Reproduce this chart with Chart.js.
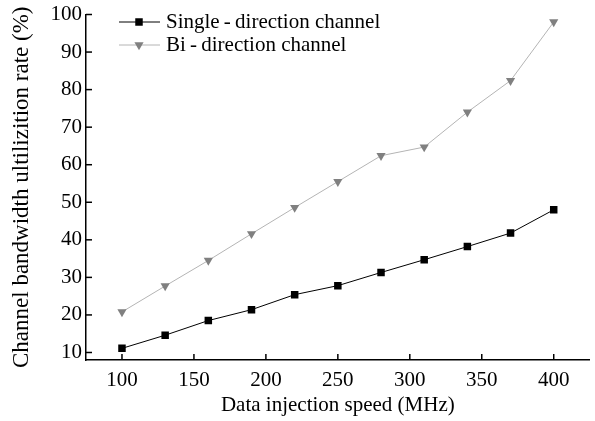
<!DOCTYPE html>
<html>
<head>
<meta charset="utf-8">
<script src="https://cdn.jsdelivr.net/npm/chart.js@4/dist/chart.umd.min.js"></script>
<style>
  body { margin: 0; background: #fff; }
</style>
</head>
<body>
<canvas id="chart" width="595" height="421"></canvas>
<script>
const speeds = [100, 130, 160, 190, 220, 250, 280, 310, 340, 370, 400];
const singleRate = [11.1, 14.6, 18.5, 21.4, 25.4, 27.8, 31.3, 34.7, 38.2, 41.8, 48.0];
const biRate = [20.8, 27.7, 34.5, 41.6, 48.6, 55.5, 62.4, 64.7, 74.0, 82.4, 98.0];
const seriesNames = ['Single\u2009-\u2009direction channel', 'Bi\u2009-\u2009direction channel'];
const xTickValues = [100, 150, 200, 250, 300, 350, 400];
const yTickValues = [10, 20, 30, 40, 50, 60, 70, 80, 90, 100];

const font = 'Liberation Serif';
const fontSize = 21;

const toPoints = (ys) => speeds.map((x, i) => ({ x: x, y: ys[i] }));

// inward tick marks, like the original plot
const innerTicks = {
  id: 'innerTicks',
  afterDraw(chart) {
    const { ctx, chartArea, scales } = chart;
    ctx.save();
    ctx.strokeStyle = '#000';
    ctx.lineWidth = 1.5;
    scales.y.ticks.forEach(t => {
      const y = scales.y.getPixelForValue(t.value);
      ctx.beginPath();
      ctx.moveTo(chartArea.left, y);
      ctx.lineTo(chartArea.left + 6, y);
      ctx.stroke();
    });
    scales.x.ticks.forEach(t => {
      const x = scales.x.getPixelForValue(t.value);
      ctx.beginPath();
      ctx.moveTo(x, chartArea.bottom);
      ctx.lineTo(x, chartArea.bottom - 6);
      ctx.stroke();
    });
    ctx.restore();
  }
};

// legend with line-marker-line symbols inside the plot
const insideLegend = {
  id: 'insideLegend',
  afterDraw(chart) {
    const { ctx } = chart;
    ctx.save();
    chart.data.datasets.forEach((ds, i) => {
      const y = 22 + i * 23;
      ctx.strokeStyle = ds.borderColor;
      ctx.lineWidth = 1;
      ctx.beginPath();
      ctx.moveTo(119, y);
      ctx.lineTo(160, y);
      ctx.stroke();
      ctx.fillStyle = ds.pointBackgroundColor;
      ctx.strokeStyle = ds.pointBackgroundColor;
      Chart.helpers.drawPoint(ctx, {
        pointStyle: ds.pointStyle,
        rotation: ds.pointRotation || 0,
        radius: ds.pointRadius,
        borderWidth: 0
      }, 139, y);
      ctx.fillStyle = '#000';
      ctx.font = fontSize + 'px "' + font + '"';
      ctx.textBaseline = 'middle';
      ctx.fillText(ds.label, 166, y);
    });
    ctx.restore();
  }
};

new Chart(document.getElementById('chart'), {
  type: 'line',
  data: {
    datasets: [
      {
        label: seriesNames[0],
        data: toPoints(singleRate),
        borderColor: '#000',
        borderWidth: 1,
        pointStyle: 'rect',
        pointRadius: 5.3,
        pointBackgroundColor: '#000',
        pointBorderWidth: 0
      },
      {
        label: seriesNames[1],
        data: toPoints(biRate),
        borderColor: '#b4b4b4',
        borderWidth: 1,
        pointStyle: 'triangle',
        pointRotation: 180,
        pointRadius: 5.3,
        pointBackgroundColor: '#808080',
        pointBorderWidth: 0
      }
    ]
  },
  options: {
    responsive: false,
    animation: false,
    layout: { padding: { top: 9, right: 3, left: 0, bottom: 0 } },
    plugins: { legend: { display: false }, tooltip: { enabled: false } },
    scales: {
      x: {
        type: 'linear',
        min: 75,
        max: 425,
        grid: { display: true, drawOnChartArea: false, drawTicks: false },
        border: { color: '#000', width: 1.5 },
        afterBuildTicks(s) { s.ticks = xTickValues.map(v => ({ value: v })); },
        ticks: { padding: 8, color: '#000', maxRotation: 0, font: { family: font, size: fontSize } },
        title: { display: true, text: 'Data injection speed (MHz)', color: '#000', font: { family: font, size: fontSize }, padding: { top: 0, bottom: 3 } },
        afterFit(s) { s.height = 61; }
      },
      y: {
        min: 8,
        max: 100,
        grid: { display: true, drawOnChartArea: false, drawTicks: false },
        border: { color: '#000', width: 1.5 },
        afterBuildTicks(s) { s.ticks = yTickValues.map(v => ({ value: v })); },
        ticks: { padding: 4, color: '#000', font: { family: font, size: fontSize, lineHeight: 1 } },
        title: { display: true, text: 'Channel bandwidth ultilizition rate (%)', color: '#000', font: { family: font, size: 23 }, padding: { top: 8, bottom: 0 } },
        afterFit(s) { s.width = 86; }
      }
    }
  },
  plugins: [innerTicks, insideLegend]
});
</script>
</body>
</html>
